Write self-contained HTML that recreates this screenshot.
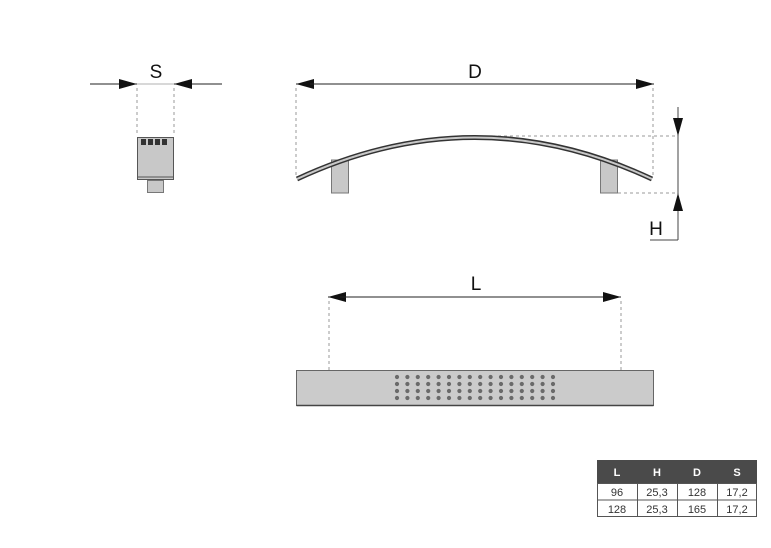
<!DOCTYPE html>
<html><head><style>body{margin:0;background:#fff;}svg{display:block}</style></head>
<body>
<svg width="771" height="548" viewBox="0 0 771 548" xmlns="http://www.w3.org/2000/svg" font-family="Liberation Sans, sans-serif">
<defs>
<marker id="a" viewBox="0 0 18 10" refX="18" refY="5" markerWidth="18" markerHeight="10" markerUnits="userSpaceOnUse" orient="auto"><path d="M0,0 L18,5 L0,10z" fill="#111"/></marker>
</defs>
<!-- S -->
<text x="156" y="78" font-size="19" text-anchor="middle" fill="#111">S</text>
<line x1="90" y1="84" x2="137" y2="84" stroke="#222" marker-end="url(#a)"/>
<line x1="222" y1="84" x2="174" y2="84" stroke="#222" marker-end="url(#a)"/>
<line x1="137" y1="84" x2="174" y2="84" stroke="#999" stroke-width="0.8"/>
<g stroke="#999" stroke-dasharray="3,3" stroke-width="1"><line x1="137" y1="88" x2="137" y2="136"/><line x1="174" y1="88" x2="174" y2="136"/></g>
<rect x="137.5" y="137.5" width="36" height="42" fill="#c8c8c8" stroke="#555"/>
<line x1="137.5" y1="177" x2="173.5" y2="177" stroke="#555"/>
<g fill="#333"><rect x="141" y="139" width="5" height="6"/><rect x="148" y="139" width="5" height="6"/><rect x="155" y="139" width="5" height="6"/><rect x="162" y="139" width="5" height="6"/></g>
<rect x="147.5" y="180.5" width="16" height="12" fill="#c8c8c8" stroke="#777"/>
<!-- D -->
<text x="475" y="78" font-size="19" text-anchor="middle" fill="#111">D</text>
<line x1="314" y1="84" x2="296" y2="84" stroke="#222" marker-end="url(#a)"/>
<line x1="310" y1="84" x2="654" y2="84" stroke="#222" marker-end="url(#a)"/>
<g stroke="#999" stroke-dasharray="3,3"><line x1="296" y1="88" x2="296" y2="177"/><line x1="653" y1="88" x2="653" y2="177"/>
<line x1="480" y1="136" x2="678" y2="136"/><line x1="618" y1="193" x2="678" y2="193"/></g>
<!-- legs -->
<rect x="331.5" y="160" width="17" height="33" fill="#c8c8c8" stroke="#777"/>
<rect x="600.5" y="160" width="17" height="33" fill="#c8c8c8" stroke="#777"/>
<!-- arc -->
<path d="M297,179 Q475,96 652,179" fill="none" stroke="#333" stroke-width="5"/>
<path d="M297,179 Q475,96 652,179" fill="none" stroke="#c8c8c8" stroke-width="2"/>
<!-- H -->
<line x1="678" y1="107" x2="678" y2="240" stroke="#444"/>
<path d="M673,118 L683,118 L678,136z" fill="#111"/>
<path d="M673,211 L683,211 L678,193z" fill="#111"/>
<line x1="650" y1="240" x2="678" y2="240" stroke="#444"/>
<text x="656" y="235" font-size="19" text-anchor="middle" fill="#111">H</text>
<!-- L -->
<text x="476" y="290" font-size="19" text-anchor="middle" fill="#111">L</text>
<line x1="346" y1="297" x2="328" y2="297" stroke="#222" marker-end="url(#a)"/>
<line x1="340" y1="297" x2="621" y2="297" stroke="#222" marker-end="url(#a)"/>
<g stroke="#999" stroke-dasharray="3,3"><line x1="329" y1="301" x2="329" y2="392"/><line x1="621" y1="301" x2="621" y2="392"/></g>
<rect x="296.5" y="370.5" width="357" height="35" fill="#cbcbcb" stroke="#666"/>
<line x1="296.5" y1="405.5" x2="653.5" y2="405.5" stroke="#444" stroke-width="1.5"/>
<g fill="#666" id="dots">
<script>/* none */</script>
</g>
<g fill="#6a6a6a">
<!-- dots generated inline -->
<g id="r1"><circle cx="397" cy="377" r="2.1"/><circle cx="407.4" cy="377" r="2.1"/><circle cx="417.8" cy="377" r="2.1"/><circle cx="428.2" cy="377" r="2.1"/><circle cx="438.6" cy="377" r="2.1"/><circle cx="449" cy="377" r="2.1"/><circle cx="459.4" cy="377" r="2.1"/><circle cx="469.8" cy="377" r="2.1"/><circle cx="480.2" cy="377" r="2.1"/><circle cx="490.6" cy="377" r="2.1"/><circle cx="501" cy="377" r="2.1"/><circle cx="511.4" cy="377" r="2.1"/><circle cx="521.8" cy="377" r="2.1"/><circle cx="532.2" cy="377" r="2.1"/><circle cx="542.6" cy="377" r="2.1"/><circle cx="553" cy="377" r="2.1"/></g>
<use href="#r1" y="7"/><use href="#r1" y="14"/><use href="#r1" y="21"/>
</g>
<!-- table -->
<rect x="597" y="460" width="160" height="23" fill="#4a4a4a"/>
<g fill="#fff" font-size="11" font-weight="bold" text-anchor="middle"><text x="617" y="476">L</text><text x="657" y="476">H</text><text x="697" y="476">D</text><text x="737" y="476">S</text></g>
<g fill="none" stroke="#555"><rect x="597.5" y="483.5" width="159" height="33"/><line x1="597" y1="500" x2="757" y2="500"/><line x1="637.5" y1="483" x2="637.5" y2="517"/><line x1="677.5" y1="483" x2="677.5" y2="517"/><line x1="717.5" y1="483" x2="717.5" y2="517"/></g>
<g fill="#333" font-size="11" text-anchor="middle"><text x="617" y="496">96</text><text x="657" y="496">25,3</text><text x="697" y="496">128</text><text x="737" y="496">17,2</text>
<text x="617" y="513">128</text><text x="657" y="513">25,3</text><text x="697" y="513">165</text><text x="737" y="513">17,2</text></g>
</svg>
</body></html>
